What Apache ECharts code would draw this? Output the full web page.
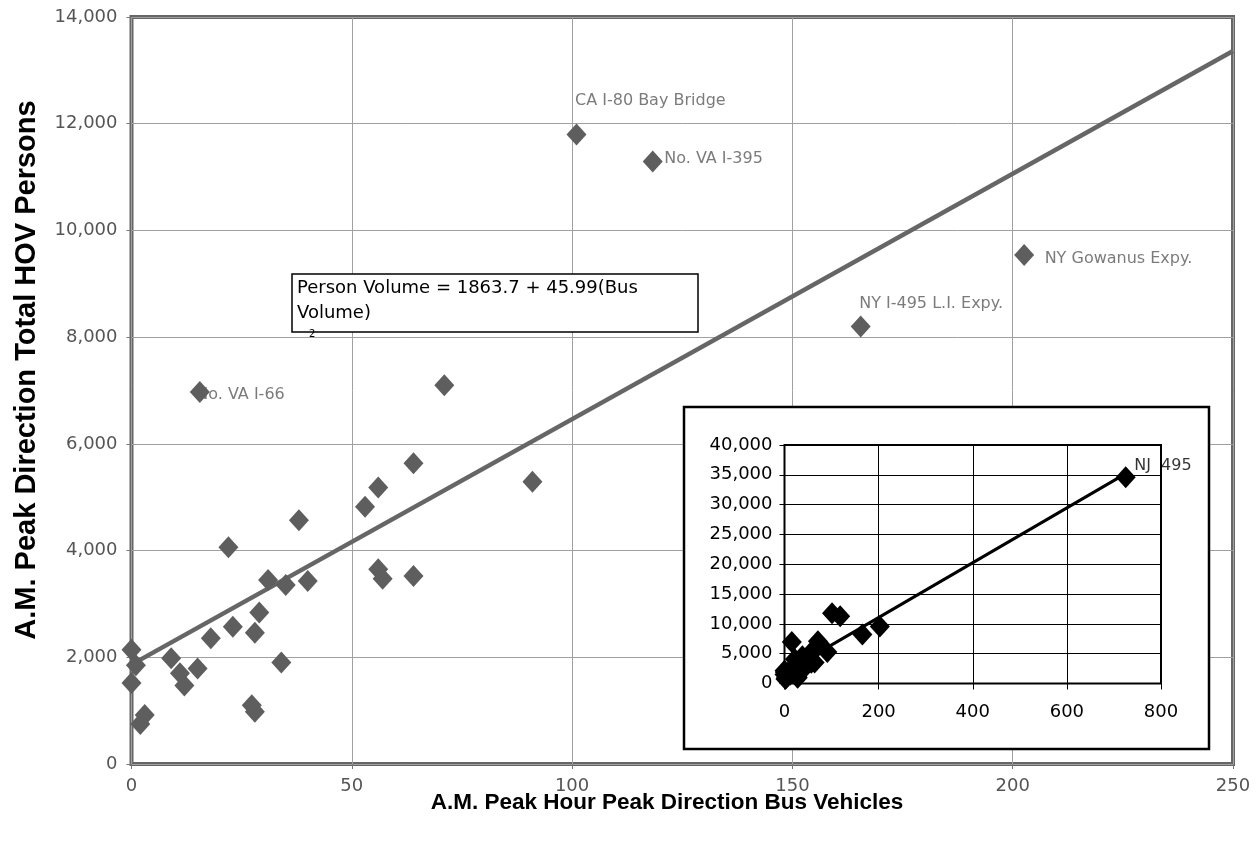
<!DOCTYPE html>
<html>
<head>
<meta charset="utf-8">
<script src="https://cdn.jsdelivr.net/npm/echarts@6/dist/echarts.min.js"></script>
<style>
  html, body { margin: 0; padding: 0; background: #fff; }
  #chart { width: 1259px; height: 846px; }
</style>
</head>
<body>
<div id="chart"></div>
<script>
// A.M. peak hour, peak direction: bus vehicles vs. total HOV persons
const busVehicles = [0, 1, 0, 3, 2, 9, 11, 12, 15, 18, 22, 23, 28, 29, 27.3, 28, 31, 34, 35, 38, 40, 53, 56, 57, 64, 56, 64, 71, 91, 15.5, 101, 118.3, 165.5, 202.6];
const hovPersons  = [2140, 1850, 1520, 920, 750, 1980, 1700, 1470, 1790, 2355, 4060, 2570, 2460, 2840, 1100, 980, 3450, 1900, 3355, 4570, 3430, 4820, 3650, 3470, 3525, 5180, 5635, 7100, 5290, 6970, 11800, 11290, 8200, 9540];
const facilityNames = ['', '', '', '', '', '', '', '', '', '', '', '', '', '', '', '', '', '', '', '', '', '', '', '', '', '', '', '', '', 'No. VA I-66', 'CA I-80 Bay Bridge', 'No. VA I-395', 'NY I-495 L.I. Expy.', 'NY Gowanus Expy.'];

// NJ 495 only fits on the full-range inset
const njBus = [725];
const njPersons = [34600];
const njName = ['NJ  495'];

// Fitted line: Person Volume = 1863.7 + 45.99(Bus Volume)
const fitIntercept = 1863.7;
const fitSlope = 45.99;
const mainFitRange = [-4.5, 250];
const insetFitRange = [0, 725];

const xTicksMain = [0, 250, 50];
const yTicksMain = [0, 14000, 2000];
const xTicksInset = [0, 800, 200];
const yTicksInset = [0, 40000, 5000];

// label placement relative to each point's centre (text left edge, text middle)
const labelOffsets = {
  'No. VA I-66': [-3, 3],
  'CA I-80 Bay Bridge': [-1, -33],
  'No. VA I-395': [12, -2],
  'NY I-495 L.I. Expy.': [-1, -22],
  'NY Gowanus Expy.': [21, 4],
  'NJ  495': [9, -11]
};

const fmt = v => v.toLocaleString('en-US');
const fitLine = r => r.map(x => [x, fitIntercept + fitSlope * x]);

const mainPoints = busVehicles.map((x, i) => [x, hovPersons[i]]);
const insetPoints = mainPoints.concat(njBus.map((x, i) => [x, njPersons[i]]));

const labelItems = (xs, ys, names) => xs.map((x, i) => names[i] ? {
  value: [x, ys[i]],
  label: {
    show: true,
    formatter: names[i],
    position: labelOffsets[names[i]]
  }
} : null).filter(Boolean);

const mainGray = '#5e5e5e';
const tickFont = '"DejaVu Sans", sans-serif';

const chart = echarts.init(document.getElementById('chart'), null, { renderer: 'canvas' });

chart.setOption({
  animation: false,
  backgroundColor: '#fff',
  grid: [
    { left: 131.5, right: 26, top: 17, bottom: 82, show: true, borderColor: '#666', borderWidth: 4, z: 0 },
    { left: 784.5, top: 445, width: 376.5, height: 238.5, show: true, borderColor: '#000', borderWidth: 2, z: 4 }
  ],
  xAxis: [
    {
      gridIndex: 0, type: 'value', min: xTicksMain[0], max: xTicksMain[1], interval: xTicksMain[2],
      axisLine: { show: false },
      axisTick: { show: true, length: 5, lineStyle: { color: '#777' } },
      axisLabel: { color: '#555', fontSize: 18, fontFamily: tickFont, margin: 13 },
      splitLine: { show: true, lineStyle: { color: '#a0a0a0', width: 1 } }
    },
    {
      gridIndex: 1, type: 'value', min: xTicksInset[0], max: xTicksInset[1], interval: xTicksInset[2], z: 5,
      axisLine: { show: false },
      axisTick: { show: true, length: 6, lineStyle: { color: '#000' } },
      axisLabel: { color: '#000', fontSize: 18, fontFamily: tickFont, margin: 20 },
      splitLine: { show: true, lineStyle: { color: '#000', width: 1 } }
    }
  ],
  yAxis: [
    {
      gridIndex: 0, type: 'value', min: yTicksMain[0], max: yTicksMain[1], interval: yTicksMain[2],
      axisLine: { show: false },
      axisTick: { show: true, length: 5, lineStyle: { color: '#777' } },
      axisLabel: { color: '#555', fontSize: 18, fontFamily: tickFont, margin: 14, formatter: fmt },
      splitLine: { show: true, lineStyle: { color: '#a0a0a0', width: 1 } }
    },
    {
      gridIndex: 1, type: 'value', min: yTicksInset[0], max: yTicksInset[1], interval: yTicksInset[2], z: 5,
      axisLine: { show: false },
      axisTick: { show: true, length: 5, lineStyle: { color: '#000' } },
      axisLabel: { color: '#000', fontSize: 18, fontFamily: tickFont, margin: 12, formatter: fmt },
      splitLine: { show: true, lineStyle: { color: '#000', width: 1 } }
    }
  ],
  graphic: [
    // inset frame
    { type: 'rect', z: 1, shape: { x: 684, y: 407, width: 525, height: 342 },
      style: { fill: '#fff', stroke: '#000', lineWidth: 2.5 } },
    // regression equation box
    { type: 'rect', z: 5, shape: { x: 292, y: 274, width: 406, height: 58 },
      style: { fill: '#fff', stroke: '#000', lineWidth: 1.5 } },
    { type: 'text', z: 6, x: 297, y: 288,
      style: { text: 'Person Volume = 1863.7 + 45.99(Bus', font: '18px "DejaVu Sans"', fill: '#000',
               align: 'left', verticalAlign: 'middle', textAlign: 'left', textVerticalAlign: 'middle' } },
    { type: 'text', z: 6, x: 297, y: 313,
      style: { text: 'Volume)', font: '18px "DejaVu Sans"', fill: '#000',
               align: 'left', verticalAlign: 'middle', textAlign: 'left', textVerticalAlign: 'middle' } },
    { type: 'text', z: 6, x: 309, y: 334,
      style: { text: '2', font: '10px "DejaVu Sans"', fill: '#000',
               align: 'left', verticalAlign: 'middle', textAlign: 'left', textVerticalAlign: 'middle' } },
    // axis titles
    { type: 'text', z: 6, x: 667, y: 803,
      style: { text: 'A.M. Peak Hour Peak Direction Bus Vehicles', font: 'bold 22.5px "Liberation Sans"', fill: '#000',
               align: 'center', verticalAlign: 'middle', textAlign: 'center', textVerticalAlign: 'middle' } },
    { type: 'text', z: 6, x: 27, y: 370, rotation: Math.PI / 2,
      style: { text: 'A.M. Peak Direction Total HOV Persons', font: 'bold 29px "Liberation Sans"', fill: '#000',
               align: 'center', verticalAlign: 'middle', textAlign: 'center', textVerticalAlign: 'middle' } }
  ],
  series: [
    {
      name: 'fit', type: 'line', xAxisIndex: 0, yAxisIndex: 0, z: 2,
      data: fitLine(mainFitRange), clip: false, symbol: 'none', silent: true,
      lineStyle: { color: '#666', width: 4.5 }
    },
    {
      name: 'labels', type: 'scatter', xAxisIndex: 0, yAxisIndex: 0, z: 2,
      data: labelItems(busVehicles, hovPersons, facilityNames),
      symbolSize: 1, itemStyle: { color: 'transparent' },
      label: { color: '#5a5a5a', fontSize: 16, fontFamily: tickFont, align: 'left', verticalAlign: 'middle' }
    },
    {
      name: 'facilities', type: 'scatter', xAxisIndex: 0, yAxisIndex: 0, z: 3,
      data: mainPoints, symbol: 'diamond', symbolSize: [20, 22],
      itemStyle: { color: mainGray, opacity: 1 }
    },
    {
      name: 'fit inset', type: 'line', xAxisIndex: 1, yAxisIndex: 1, z: 6,
      data: fitLine(insetFitRange), symbol: 'none', silent: true,
      lineStyle: { color: '#000', width: 3 }
    },
    {
      name: 'facilities inset', type: 'scatter', xAxisIndex: 1, yAxisIndex: 1, z: 7,
      data: insetPoints, symbol: 'diamond', symbolSize: [20, 22],
      itemStyle: { color: '#000', opacity: 1 }
    },
    {
      name: 'labels inset', type: 'scatter', xAxisIndex: 1, yAxisIndex: 1, z: 8,
      data: labelItems(njBus, njPersons, njName),
      symbolSize: 1, itemStyle: { color: 'transparent' },
      label: { color: '#000', fontSize: 16, fontFamily: tickFont, align: 'left', verticalAlign: 'middle' }
    }
  ]
});
</script>
</body>
</html>
